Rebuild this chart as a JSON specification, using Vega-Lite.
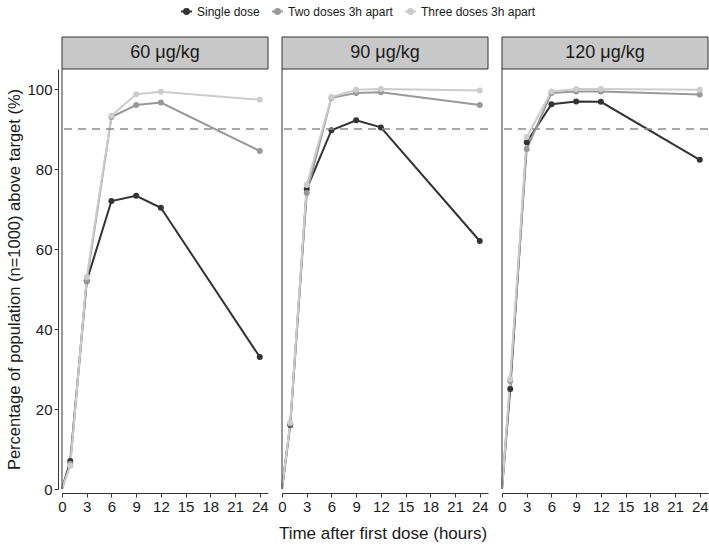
{
  "$schema": "https://vega.github.io/schema/vega-lite/v6.json",
  "background": "white",
  "padding": {"left": 6, "top": 5, "right": 0, "bottom": 3},
  "datasets": {
    "rows": [
      {"dose": "60 μg/kg", "series": "Single dose", "time": 0, "pct": 0},
      {"dose": "60 μg/kg", "series": "Single dose", "time": 1, "pct": 7},
      {"dose": "60 μg/kg", "series": "Single dose", "time": 3, "pct": 52},
      {"dose": "60 μg/kg", "series": "Single dose", "time": 6, "pct": 72},
      {"dose": "60 μg/kg", "series": "Single dose", "time": 9, "pct": 73.3},
      {"dose": "60 μg/kg", "series": "Single dose", "time": 12, "pct": 70.3},
      {"dose": "60 μg/kg", "series": "Single dose", "time": 24, "pct": 33},
      {"dose": "60 μg/kg", "series": "Two doses 3h apart", "time": 0, "pct": 0},
      {"dose": "60 μg/kg", "series": "Two doses 3h apart", "time": 1, "pct": 6.3},
      {"dose": "60 μg/kg", "series": "Two doses 3h apart", "time": 3, "pct": 52},
      {"dose": "60 μg/kg", "series": "Two doses 3h apart", "time": 6, "pct": 93},
      {"dose": "60 μg/kg", "series": "Two doses 3h apart", "time": 9, "pct": 96},
      {"dose": "60 μg/kg", "series": "Two doses 3h apart", "time": 12, "pct": 96.6},
      {"dose": "60 μg/kg", "series": "Two doses 3h apart", "time": 24, "pct": 84.5},
      {"dose": "60 μg/kg", "series": "Three doses 3h apart", "time": 0, "pct": 0},
      {"dose": "60 μg/kg", "series": "Three doses 3h apart", "time": 1, "pct": 5.8},
      {"dose": "60 μg/kg", "series": "Three doses 3h apart", "time": 3, "pct": 53},
      {"dose": "60 μg/kg", "series": "Three doses 3h apart", "time": 6, "pct": 93.3},
      {"dose": "60 μg/kg", "series": "Three doses 3h apart", "time": 9, "pct": 98.7},
      {"dose": "60 μg/kg", "series": "Three doses 3h apart", "time": 12, "pct": 99.3},
      {"dose": "60 μg/kg", "series": "Three doses 3h apart", "time": 24, "pct": 97.3},
      {"dose": "90 μg/kg", "series": "Single dose", "time": 0, "pct": 0},
      {"dose": "90 μg/kg", "series": "Single dose", "time": 1, "pct": 16},
      {"dose": "90 μg/kg", "series": "Single dose", "time": 3, "pct": 75},
      {"dose": "90 μg/kg", "series": "Single dose", "time": 6, "pct": 89.7},
      {"dose": "90 μg/kg", "series": "Single dose", "time": 9, "pct": 92.2},
      {"dose": "90 μg/kg", "series": "Single dose", "time": 12, "pct": 90.4},
      {"dose": "90 μg/kg", "series": "Single dose", "time": 24, "pct": 62},
      {"dose": "90 μg/kg", "series": "Two doses 3h apart", "time": 0, "pct": 0},
      {"dose": "90 μg/kg", "series": "Two doses 3h apart", "time": 1, "pct": 16.3},
      {"dose": "90 μg/kg", "series": "Two doses 3h apart", "time": 3, "pct": 74},
      {"dose": "90 μg/kg", "series": "Two doses 3h apart", "time": 6, "pct": 97.8},
      {"dose": "90 μg/kg", "series": "Two doses 3h apart", "time": 9, "pct": 99},
      {"dose": "90 μg/kg", "series": "Two doses 3h apart", "time": 12, "pct": 99.2},
      {"dose": "90 μg/kg", "series": "Two doses 3h apart", "time": 24, "pct": 96},
      {"dose": "90 μg/kg", "series": "Three doses 3h apart", "time": 0, "pct": 0},
      {"dose": "90 μg/kg", "series": "Three doses 3h apart", "time": 1, "pct": 16.6},
      {"dose": "90 μg/kg", "series": "Three doses 3h apart", "time": 3, "pct": 76},
      {"dose": "90 μg/kg", "series": "Three doses 3h apart", "time": 6, "pct": 98},
      {"dose": "90 μg/kg", "series": "Three doses 3h apart", "time": 9, "pct": 99.8},
      {"dose": "90 μg/kg", "series": "Three doses 3h apart", "time": 12, "pct": 100},
      {"dose": "90 μg/kg", "series": "Three doses 3h apart", "time": 24, "pct": 99.6},
      {"dose": "120 μg/kg", "series": "Single dose", "time": 0, "pct": 0},
      {"dose": "120 μg/kg", "series": "Single dose", "time": 1, "pct": 25},
      {"dose": "120 μg/kg", "series": "Single dose", "time": 3, "pct": 86.7},
      {"dose": "120 μg/kg", "series": "Single dose", "time": 6, "pct": 96.2},
      {"dose": "120 μg/kg", "series": "Single dose", "time": 9, "pct": 96.9},
      {"dose": "120 μg/kg", "series": "Single dose", "time": 12, "pct": 96.8},
      {"dose": "120 μg/kg", "series": "Single dose", "time": 24, "pct": 82.3},
      {"dose": "120 μg/kg", "series": "Two doses 3h apart", "time": 0, "pct": 0},
      {"dose": "120 μg/kg", "series": "Two doses 3h apart", "time": 1, "pct": 27},
      {"dose": "120 μg/kg", "series": "Two doses 3h apart", "time": 3, "pct": 85},
      {"dose": "120 μg/kg", "series": "Two doses 3h apart", "time": 6, "pct": 99},
      {"dose": "120 μg/kg", "series": "Two doses 3h apart", "time": 9, "pct": 99.4},
      {"dose": "120 μg/kg", "series": "Two doses 3h apart", "time": 12, "pct": 99.4},
      {"dose": "120 μg/kg", "series": "Two doses 3h apart", "time": 24, "pct": 98.6},
      {"dose": "120 μg/kg", "series": "Three doses 3h apart", "time": 0, "pct": 0},
      {"dose": "120 μg/kg", "series": "Three doses 3h apart", "time": 1, "pct": 27.5},
      {"dose": "120 μg/kg", "series": "Three doses 3h apart", "time": 3, "pct": 88},
      {"dose": "120 μg/kg", "series": "Three doses 3h apart", "time": 6, "pct": 99.4},
      {"dose": "120 μg/kg", "series": "Three doses 3h apart", "time": 9, "pct": 100},
      {"dose": "120 μg/kg", "series": "Three doses 3h apart", "time": 12, "pct": 100},
      {"dose": "120 μg/kg", "series": "Three doses 3h apart", "time": 24, "pct": 99.8}
    ]
  },
  "data": {"name": "rows"},
  "facet": {
    "column": {
      "field": "dose",
      "type": "nominal",
      "sort": ["60 μg/kg", "90 μg/kg", "120 μg/kg"],
      "title": "Time after first dose (hours)",
      "header": {
        "labels": false,
        "titleOrient": "bottom",
        "titleFontSize": 17,
        "titleFontWeight": "normal",
        "titleColor": "#1a1a1a",
        "titlePadding": 2
      }
    }
  },
  "spacing": 9,
  "spec": {
    "width": 206,
    "height": 420,
    "layer": [
      {
        "mark": {"type": "line", "strokeWidth": 2},
        "encoding": {
          "x": {
            "field": "time", "type": "quantitative",
            "scale": {"domain": [0, 25], "nice": false, "zero": true},
            "axis": {"values": [0, 3, 6, 9, 12, 15, 18, 21, 24], "title": null, "grid": false, "labelOverlap": false, "labelFlush": false, "tickCount": 9}
          },
          "y": {
            "field": "pct", "type": "quantitative",
            "scale": {"domain": [0, 105], "nice": false},
            "axis": {"values": [0, 20, 40, 60, 80, 100], "title": "Percentage of population (n=1000) above target  (%)", "grid": false}
          },
          "color": {
            "field": "series", "type": "nominal",
            "scale": {"domain": ["Single dose", "Two doses 3h apart", "Three doses 3h apart"], "range": ["#333333", "#999999", "#cccccc"]},
            "legend": {"title": null}
          },
          "order": {"field": "time"}
        }
      },
      {
        "transform": [{"filter": "datum.time > 0"}],
        "mark": {"type": "point", "filled": true, "size": 36, "opacity": 1},
        "encoding": {
          "x": {"field": "time", "type": "quantitative"},
          "y": {"field": "pct", "type": "quantitative"},
          "color": {"field": "series", "type": "nominal"}
        }
      },
      {
        "transform": [{"filter": "datum.time == 0 && datum.series == 'Single dose'"}],
        "mark": {"type": "rule", "color": "#8c8c8c", "strokeWidth": 1.6, "strokeDash": [8, 6]},
        "encoding": {
          "y": {"datum": 90, "type": "quantitative"}
        }
      },
      {
        "transform": [{"filter": "datum.time == 0 && datum.series == 'Single dose'"}],
        "mark": {"type": "rule", "color": "#333333", "strokeWidth": 1},
        "encoding": {
          "x": {"datum": 0, "type": "quantitative"}
        }
      },
      {
        "transform": [{"filter": "datum.time == 0 && datum.series == 'Single dose'"}],
        "mark": {"type": "rect", "clip": false, "fill": "#c8c8c8", "stroke": "#333333", "strokeWidth": 1},
        "encoding": {
          "x": {"datum": 0, "type": "quantitative"},
          "x2": {"datum": 25},
          "y": {"datum": 105, "type": "quantitative"},
          "y2": {"datum": 113}
        }
      },
      {
        "transform": [{"filter": "datum.time == 0 && datum.series == 'Single dose'"}],
        "mark": {"type": "text", "clip": false, "fontSize": 18, "color": "#1a1a1a", "baseline": "middle", "align": "center"},
        "encoding": {
          "x": {"datum": 12.5, "type": "quantitative"},
          "y": {"datum": 109, "type": "quantitative"},
          "text": {"field": "dose"}
        }
      }
    ]
  },
  "config": {
    "font": "Liberation Sans",
    "view": {"stroke": null},
    "axis": {
      "domainColor": "#333333",
      "tickColor": "#333333",
      "tickSize": 4,
      "labelColor": "#1a1a1a",
      "labelFontSize": 15,
      "labelPadding": 2,
      "titleColor": "#1a1a1a",
      "titleFontSize": 16.5,
      "titleFontWeight": "normal"
    },
    "axisX": {"labelOverlap": false, "labelFlush": false},
    "legend": {
      "orient": "top",
      "direction": "horizontal",
      "labelFontSize": 12,
      "labelColor": "#1a1a1a",
      "symbolType": "M-1,0H1M0.45,0A0.45,0.45,0,1,1,-0.45,0A0.45,0.45,0,1,1,0.45,0",
      "symbolSize": 120,
      "symbolStrokeWidth": 2,
      "columnPadding": 8,
      "layout": {"top": {"anchor": "middle"}}
    }
  }
}
